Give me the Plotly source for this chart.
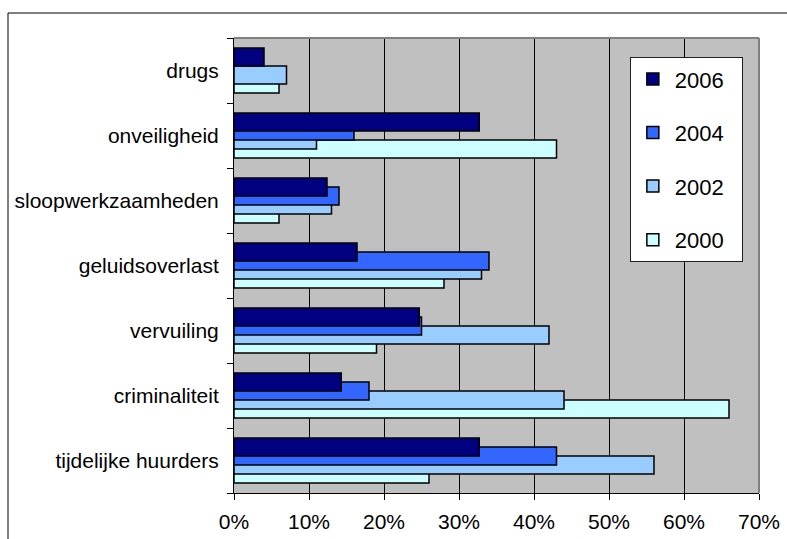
import plotly.graph_objects as go

# Categories listed top to bottom as shown on the chart
categories = [
    "drugs",
    "onveiligheid",
    "sloopwerkzaamheden",
    "geluidsoverlast",
    "vervuiling",
    "criminaliteit",
    "tijdelijke huurders",
]

years = ["2000", "2002", "2004", "2006"]

# Percentages per year (None = no measurement)
values_2006 = [4, 32.7, 12.4, 16.4, 24.7, 14.3, 32.7]
values_2004 = [None, 16, 14, 34, 25, 18, 43]
values_2002 = [7, 11, 13, 33, 42, 44, 56]
values_2000 = [6, 43, 6, 28, 19, 66, 26]

x_ticks = [0, 10, 20, 30, 40, 50, 60, 70]
x_tick_labels = [f"{t}%" for t in x_ticks]

series = {
    "2000": values_2000,
    "2002": values_2002,
    "2004": values_2004,
    "2006": values_2006,
}
colors = {
    "2000": "#CCFFFF",
    "2002": "#99CCFF",
    "2004": "#3366FF",
    "2006": "#000080",
}
# Overlapping bars: each series shifted by half a bar height
bar_width = 0.277
offsets = {"2000": -0.346, "2002": -0.208, "2004": -0.069, "2006": 0.069}
# Newest year first in the legend
legend_rank = {"2006": 1, "2004": 2, "2002": 3, "2000": 4}

FONT = "Liberation Sans, Arial, sans-serif"

fig = go.Figure()
for yr in years:
    fig.add_trace(go.Bar(
        y=categories,
        x=series[yr],
        name=yr + "\u00a0\u00a0",
        orientation="h",
        width=bar_width,
        offset=offsets[yr],
        marker=dict(color=colors[yr], line=dict(color="black", width=1.5)),
        legendgroup=yr,
        legendrank=legend_rank[yr],
    ))

fig.update_layout(
    width=787,
    height=539,
    barmode="overlay",
    paper_bgcolor="white",
    plot_bgcolor="#C0C0C0",
    margin=dict(l=234, r=28, t=38, b=46),
    font=dict(family=FONT, size=21, color="black"),
    showlegend=True,
    legend=dict(
        x=0.754, y=0.958, xanchor="left", yanchor="top",
        bgcolor="white", bordercolor="#202020", borderwidth=1,
        traceorder="grouped", tracegroupgap=22,
        itemwidth=34,
        font=dict(family=FONT, size=22, color="black"),
    ),
    xaxis=dict(
        range=[0, 70],
        tickvals=x_ticks,
        ticktext=x_tick_labels,
        showgrid=True, gridcolor="black", gridwidth=1,
        showline=True, linecolor="black", linewidth=1,
        ticks="outside", ticklen=6, tickcolor="black",
        zeroline=False,
        ticklabelstandoff=4,
        automargin=False,
    ),
    yaxis=dict(
        categoryorder="array",
        categoryarray=list(reversed(categories)),
        range=[-0.5, len(categories) - 0.5],
        showline=True, linecolor="black", linewidth=1,
        ticks="outside", ticklen=6, tickcolor="black",
        tickson="boundaries",
        showgrid=False,
        ticklabelstandoff=10,
        automargin=False,
    ),
)

# Gray frame on the top and right of the plot area
fig.add_shape(type="line", xref="paper", yref="paper", x0=0, x1=1, y0=1, y1=1,
              line=dict(color="#808080", width=2))
fig.add_shape(type="line", xref="paper", yref="paper", x0=1, x1=1, y0=0, y1=1,
              line=dict(color="#808080", width=2))

# Outer chart border
fig.add_shape(type="rect", xref="paper", yref="paper",
              x0=(8 - 234) / 525, x1=(800 - 234) / 525,
              y0=(493 - 560) / 455, y1=(493 - 13) / 455,
              line=dict(color="black", width=1), fillcolor="rgba(0,0,0,0)",
              layer="below")

fig.write_html("out.html")
